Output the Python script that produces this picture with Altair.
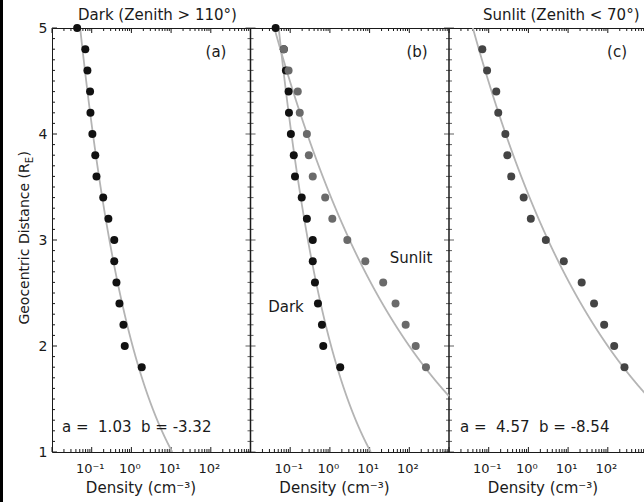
import math
import altair as alt
import pandas as pd

# Geocentric distance bins (R_E)
DIST = [5.0, 4.8, 4.6, 4.4, 4.2, 4.0, 3.8, 3.6, 3.4, 3.2, 3.0, 2.8, 2.6, 2.4, 2.2, 2.0, 1.8]
# Median electron density per bin (cm^-3), dark side (solar zenith > 110 deg)
DARK_DENSITY = [0.043, 0.069, 0.078, 0.091, 0.093, 0.104, 0.123, 0.132, 0.195,
                0.263, 0.37, 0.37, 0.42, 0.50, 0.63, 0.68, 1.82]
# Sunlit side (solar zenith < 70 deg); no bin at 5.0 R_E
SUNLIT_DIST = [4.8, 4.6, 4.4, 4.2, 4.0, 3.8, 3.6, 3.4, 3.2, 3.0, 2.8, 2.6, 2.4, 2.2, 2.0, 1.8]
SUNLIT_DENSITY = [0.069, 0.091, 0.155, 0.174, 0.263, 0.295, 0.37, 0.76, 1.15,
                  2.75, 7.8, 22, 45, 81, 145, 263]

# Power-law fits  n = 10^a * r^b
FIT_A = {"dark": 1.03, "sunlit": 4.57}
FIT_B = {"dark": -3.32, "sunlit": -8.54}

# Which population goes in which panel: (a)=0, (b)=1, (c)=2, and its dot colour there
DARK_PANELS = [0, 1]
DARK_COLORS = ["#111111", "#111111"]
SUNLIT_PANELS = [1, 2]
SUNLIT_COLORS = ["#6a6a6a", "#444444"]

# Each panel spans 10^-2 .. 10^3 cm^-3
LOG_MIN = -2
DECADES = 5
X_TICK_LABELS = ["", "10⁻¹", "10⁰", "10¹", "10²"]
X_MINOR_MULT = [2, 3, 4, 5, 6, 7, 8, 9]
Y_MAJOR = [1, 2, 3, 4, 5]
Y_MINOR = [v / 10 for v in range(11, 50) if v % 10]

FONT = "DejaVu Sans"
INK = "#1a1a1a"
CURVE = "#b4b4b4"

PX_PER_DECADE = 39.7
W, H = 592, 424
X_END = W / PX_PER_DECADE           # the last panel runs off the right edge
PANEL_EDGES = [DECADES * 1.0, DECADES * 2.0]
PANEL_LEFT = [0, DECADES * PX_PER_DECADE, 2 * DECADES * PX_PER_DECADE]

XS = alt.Scale(domain=[0, X_END], nice=False, zero=False)
YS = alt.Scale(domain=[1, 5], nice=False, zero=False)
TO_X = f"datum.panel * {DECADES} + log(datum.n) / LN10 - ({LOG_MIN})"


def xq(field):
    return alt.X(f"{field}:Q", scale=XS, axis=None)


def yq(field):
    return alt.Y(f"{field}:Q", scale=YS, axis=None)


def population(panels, colors, dist, dens):
    df = pd.DataFrame({
        "panel": [p for p in panels for _ in dist],
        "r": dist * len(panels),
        "n": dens * len(panels),
    })
    return (
        alt.Chart(df).transform_calculate(x=TO_X)
        .mark_circle(size=64, opacity=1)
        .encode(
            x=xq("x"), y=yq("r"),
            color=alt.Color("panel:O", scale=alt.Scale(domain=panels, range=colors),
                            legend=None),
        )
    )


def fit_curves():
    kinds = ["dark"] * len(DARK_PANELS) + ["sunlit"] * len(SUNLIT_PANELS)
    df = pd.DataFrame({
        "panel": DARK_PANELS + SUNLIT_PANELS,
        "kind": kinds,
        "a": [FIT_A[k] for k in kinds],
        "b": [FIT_B[k] for k in kinds],
    })
    return (
        alt.Chart(df)
        .transform_calculate(rr="sequence(1000, 5001, 2)")
        .transform_flatten(["rr"])
        .transform_calculate(r="datum.rr / 1000")
        .transform_calculate(n="pow(10, datum.a) * pow(datum.r, datum.b)")
        .transform_calculate(x=TO_X)
        .transform_filter(f"datum.x <= datum.panel * {DECADES} + {DECADES}")
        .mark_line(clip=True, color=CURVE, strokeWidth=1.8)
        .encode(x=xq("x"), y=yq("r"), detail=["panel:N", "kind:N"], order="r:Q")
    )


# tick positions along the density axis
n_dec = int(math.ceil(X_END))
X_MAJOR_POS = [float(d) for d in range(n_dec) if d <= X_END]
X_MINOR_POS = [d + math.log10(m) for d in range(n_dec) for m in X_MINOR_MULT
               if d + math.log10(m) < X_END]
X_LABEL_POS = [p for p in X_MAJOR_POS if X_TICK_LABELS[int(p) % DECADES]]
X_LABEL_EXPR = "[" + ", ".join(f"'{t}'" for t in X_TICK_LABELS) + f"][round(datum.value) % {DECADES}]"


def x_ticks(pos, length, top):
    y0, y1 = (0, length) if top else (H, H - length)
    return (
        alt.Chart(pd.DataFrame({"pos": pos}))
        .mark_rule(color=INK, strokeWidth=1)
        .encode(x=xq("pos"), y=alt.value(y0), y2=alt.value(y1))
    )


def left_ticks(vals, length):
    return (
        alt.Chart(pd.DataFrame({"r": vals}))
        .mark_rule(color=INK, strokeWidth=1)
        .encode(y=yq("r"), x=alt.value(0), x2=alt.value(length))
    )


def edge_ticks(vals, length):
    df = pd.DataFrame({"edge": [e for e in PANEL_EDGES for _ in vals],
                       "r": vals * len(PANEL_EDGES)})
    return (
        alt.Chart(df)
        .mark_tick(orient="horizontal", size=2 * length, thickness=1, color=INK)
        .encode(x=xq("edge"), y=yq("r"))
    )


def note(text, x, y, size=15, align="left", baseline="alphabetic", angle=0):
    return (
        alt.Chart(pd.DataFrame({"t": [text]}))
        .mark_text(align=align, baseline=baseline, font=FONT, fontSize=size,
                   color=INK, angle=angle)
        .encode(x=alt.value(x), y=alt.value(y), text="t:N")
    )


def fit_label(kind):
    return f"a =\u00a0 {FIT_A[kind]:.2f}\u00a0 b = {FIT_B[kind]:.2f}"


corners = pd.DataFrame({"x": [0, X_END], "r": [1.0, 5.0]})
axes_main = alt.Chart(corners).mark_point(opacity=0).encode(
    x=alt.X("x:Q", scale=XS, axis=alt.Axis(
        orient="bottom", values=X_LABEL_POS, labelExpr=X_LABEL_EXPR, ticks=False,
        domain=True, domainColor=INK, domainWidth=1, grid=False, labelPadding=10,
        labelFont=FONT, labelFontSize=13, labelColor=INK, labelOffset=-2,
        labelFlush=False, labelOverlap=False, title=None)),
    y=alt.Y("r:Q", scale=YS, axis=alt.Axis(
        orient="left", values=Y_MAJOR, ticks=False, domain=True, domainColor=INK,
        domainWidth=1, grid=False, labelPadding=5, labelFont=FONT, labelFontSize=14,
        labelColor=INK, labelFlush=False, labelOverlap=False, title=None)),
)
axes_top = alt.Chart(corners).mark_point(opacity=0).encode(
    x=alt.X("x:Q", scale=XS, axis=alt.Axis(
        orient="top", labels=False, ticks=False, domain=True, domainColor=INK,
        domainWidth=1, grid=False, title=None)),
    y=alt.Y("r:Q", scale=YS, axis=None),
)

panel_edges = (
    alt.Chart(pd.DataFrame({"edge": PANEL_EDGES}))
    .mark_rule(color=INK, strokeWidth=1.5)
    .encode(x=xq("edge"), y=alt.value(0), y2=alt.value(H))
)

a_left, b_left, c_left = PANEL_LEFT
texts = [
    note("Dark (Zenith > 110°)", a_left + 26, -8),
    note("Sunlit (Zenith < 70°)", c_left + 34, -8),
    note("(a)", a_left + 164, 24, align="center", baseline="middle"),
    note("(b)", b_left + 166.5, 24, align="center", baseline="middle"),
    note("(c)", c_left + 168, 24, align="center", baseline="middle"),
    note(fit_label("dark"), a_left + 10, 399, baseline="middle"),
    note(fit_label("sunlit"), c_left + 11, 399, baseline="middle"),
    note("Dark", b_left + 35.5, 279, align="center", baseline="middle"),
    note("Sunlit", b_left + 160.5, 230, align="center", baseline="middle"),
    note("Density (cm⁻³)", a_left + 89, 460, align="center", baseline="middle"),
    note("Density (cm⁻³)", b_left + 84, 460, align="center", baseline="middle"),
    note("Density (cm⁻³)", c_left + 94, 460, align="center", baseline="middle"),
    # vertical axis title with subscripted E
    note("Geocentric Distance (R", -23, 296.6, size=14, angle=270),
    note("E", -19.5, 135.2, size=10, angle=270),
    note(")", -23, 128.6, size=14, angle=270),
]

# dark scan edge along the left border of the page
scan_edge = (
    alt.Chart(pd.DataFrame({"k": [0]}))
    .mark_rule(color="#000000", strokeWidth=3)
    .encode(x=alt.value(-50.5), y=alt.value(-28), y2=alt.value(474))
)

chart = (
    alt.layer(
        axes_main, axes_top,
        x_ticks(X_MAJOR_POS, 5, False), x_ticks(X_MINOR_POS, 3, False),
        x_ticks(X_MAJOR_POS, 5, True), x_ticks(X_MINOR_POS, 3, True),
        left_ticks(Y_MAJOR, 5), left_ticks(Y_MINOR, 3),
        edge_ticks(Y_MAJOR, 5), edge_ticks(Y_MINOR, 3),
        panel_edges,
        fit_curves(),
        population(DARK_PANELS, DARK_COLORS, DIST, DARK_DENSITY),
        population(SUNLIT_PANELS, SUNLIT_COLORS, SUNLIT_DIST, SUNLIT_DENSITY),
        *texts,
        scan_edge,
    )
    .resolve_axis(x="independent", y="independent")
    .resolve_scale(color="independent")
    .properties(
        width=W, height=H,
        autosize=alt.AutoSizeParams(type="none"),
        padding={"left": 52, "top": 28, "right": 0, "bottom": 50},
        background="white",
    )
    .configure_view(stroke=None)
)

chart.save("out.html", embed_options={"renderer": "svg", "actions": False})
